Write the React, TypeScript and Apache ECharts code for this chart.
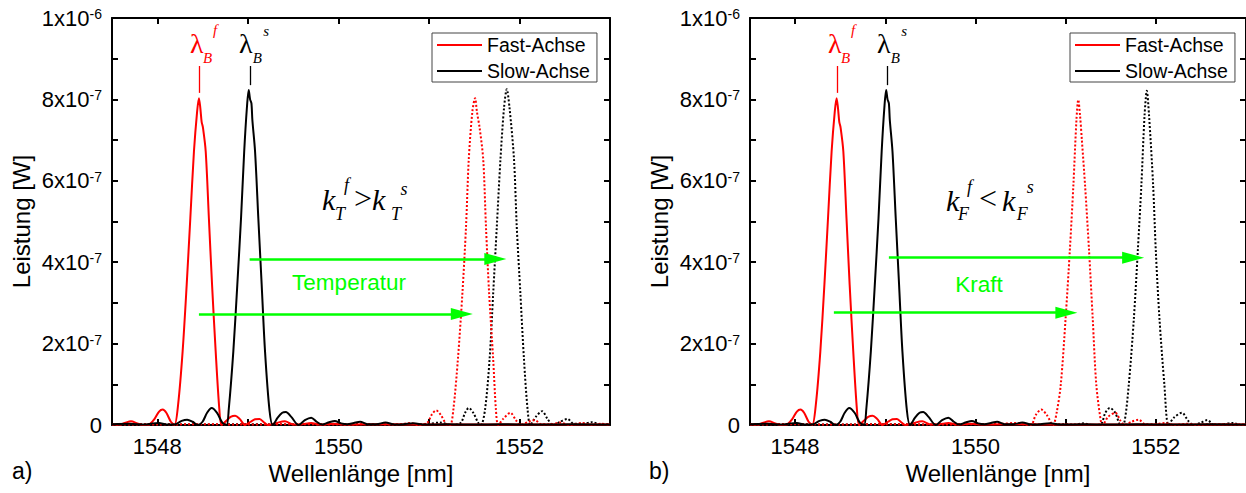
import React, { useEffect, useRef } from 'react';
import * as echarts from 'echarts';

type Pt = [number, number];

// Wavelength [nm] vs. power in units of 1e-7 W
const fastSolid: Pt[] = [
  [1547.5, 0.02], [1547.58, 0.01], [1547.64, 0.05], [1547.71, 0.09], [1547.78, 0.04], [1547.84, 0.0],
  [1547.92, 0.03], [1547.97, 0.15], [1548.02, 0.33], [1548.06, 0.38], [1548.1, 0.3], [1548.15, 0.08],
  [1548.19, 0.0], [1548.23, 0.5], [1548.28, 1.81], [1548.325, 3.45], [1548.365, 5.08], [1548.405, 6.72],
  [1548.44, 7.7], [1548.46, 8.03], [1548.475, 7.8], [1548.49, 7.45], [1548.505, 7.3], [1548.535, 6.72],
  [1548.57, 5.08], [1548.605, 3.45], [1548.645, 1.81], [1548.685, 0.4], [1548.71, 0.0], [1548.76, 0.1],
  [1548.81, 0.2], [1548.86, 0.23], [1548.91, 0.15], [1548.97, 0.0], [1549.03, 0.08], [1549.08, 0.14],
  [1549.13, 0.15], [1549.18, 0.06], [1549.22, 0.0], [1549.3, 0.04], [1549.41, 0.09], [1549.5, 0.01],
  [1549.6, 0.02], [1549.7, 0.05], [1549.8, 0.01], [1549.95, 0.03], [1550.1, 0.01], [1550.3, 0.02],
  [1550.6, 0.02], [1551.0, 0.01], [1551.5, 0.01], [1552.0, 0.01], [1552.5, 0.01], [1553.0, 0.01],
];
const slowSolid: Pt[] = [
  [1547.5, 0.02], [1547.7, 0.03], [1547.85, 0.01], [1547.95, 0.04], [1548.02, 0.05], [1548.1, 0.01],
  [1548.2, 0.02], [1548.27, 0.1], [1548.33, 0.13], [1548.39, 0.08], [1548.45, 0.0], [1548.5, 0.08],
  [1548.55, 0.3], [1548.6, 0.42], [1548.66, 0.3], [1548.72, 0.05], [1548.765, 0.0], [1548.79, 0.4],
  [1548.84, 1.81], [1548.884, 3.45], [1548.925, 5.08], [1548.96, 6.72], [1548.99, 7.8], [1549.01, 8.23],
  [1549.025, 8.0], [1549.04, 7.9], [1549.05, 7.5], [1549.08, 6.72], [1549.116, 5.08], [1549.153, 3.45],
  [1549.19, 1.81], [1549.24, 0.35], [1549.275, 0.0], [1549.33, 0.18], [1549.38, 0.3], [1549.42, 0.32],
  [1549.48, 0.2], [1549.56, 0.0], [1549.63, 0.12], [1549.7, 0.18], [1549.76, 0.08], [1549.82, 0.01],
  [1549.89, 0.06], [1549.96, 0.1], [1550.03, 0.04], [1550.1, 0.02], [1550.17, 0.05], [1550.24, 0.08],
  [1550.32, 0.02], [1550.42, 0.02], [1550.52, 0.06], [1550.62, 0.01], [1550.72, 0.02], [1550.83, 0.04],
  [1550.95, 0.01], [1551.2, 0.02], [1551.5, 0.01], [1551.8, 0.02], [1552.2, 0.01], [1552.6, 0.02],
  [1553.0, 0.01],
];
// panel a): shifted by temperature
const fastDottedA: Pt[] = [
  [1547.5, 0.01], [1548.0, 0.01], [1548.5, 0.02], [1549.0, 0.01], [1549.5, 0.02], [1550.0, 0.01],
  [1550.4, 0.02], [1550.6, 0.01], [1550.72, 0.03], [1550.79, 0.05], [1550.87, 0.0], [1550.98, 0.05],
  [1551.03, 0.25], [1551.08, 0.36], [1551.13, 0.25], [1551.19, 0.03], [1551.235, 0.0], [1551.27, 0.38],
  [1551.32, 1.61], [1551.37, 3.24], [1551.41, 4.88], [1551.44, 6.52], [1551.48, 7.7], [1551.51, 8.03],
  [1551.53, 7.7], [1551.56, 7.3], [1551.6, 6.52], [1551.63, 4.88], [1551.665, 3.24], [1551.71, 1.61],
  [1551.74, 0.38], [1551.765, 0.0], [1551.82, 0.15], [1551.9, 0.3], [1551.96, 0.12], [1552.01, 0.0],
  [1552.1, 0.08], [1552.17, 0.12], [1552.24, 0.02], [1552.35, 0.02], [1552.45, 0.06], [1552.55, 0.0],
  [1552.7, 0.05], [1552.8, 0.0], [1552.9, 0.03], [1553.0, 0.0],
];
const slowDottedA: Pt[] = [
  [1547.5, 0.01], [1548.0, 0.02], [1548.5, 0.01], [1549.0, 0.02], [1549.5, 0.01], [1550.0, 0.02],
  [1550.5, 0.01], [1550.9, 0.02], [1551.0, 0.03], [1551.12, 0.06], [1551.25, 0.0], [1551.35, 0.05],
  [1551.4, 0.3], [1551.44, 0.42], [1551.49, 0.3], [1551.545, 0.05], [1551.575, 0.0], [1551.62, 0.38],
  [1551.67, 1.61], [1551.71, 3.24], [1551.75, 4.88], [1551.79, 6.52], [1551.83, 7.8], [1551.86, 8.25],
  [1551.89, 7.8], [1551.94, 6.52], [1551.97, 4.88], [1552.01, 3.24], [1552.05, 1.61], [1552.09, 0.38],
  [1552.12, 0.0], [1552.18, 0.2], [1552.25, 0.34], [1552.31, 0.15], [1552.37, 0.0], [1552.45, 0.08],
  [1552.53, 0.15], [1552.6, 0.03], [1552.7, 0.03], [1552.8, 0.07], [1552.9, 0.01], [1553.0, 0.03],
];
// panel b): shifted by force
const fastDottedB: Pt[] = [
  [1547.5, 0.01], [1548.0, 0.02], [1548.5, 0.01], [1549.0, 0.02], [1549.5, 0.01], [1550.0, 0.02],
  [1550.3, 0.03], [1550.45, 0.05], [1550.55, 0.01], [1550.615, 0.0], [1550.67, 0.25], [1550.73, 0.38],
  [1550.79, 0.25], [1550.86, 0.0], [1550.9, 0.3], [1550.946, 0.99], [1551.0, 2.63], [1551.046, 4.27],
  [1551.086, 5.9], [1551.12, 7.5], [1551.14, 7.99], [1551.16, 7.6], [1551.18, 7.0], [1551.215, 5.9],
  [1551.26, 4.27], [1551.3, 2.63], [1551.34, 0.99], [1551.39, 0.1], [1551.41, 0.0], [1551.47, 0.2],
  [1551.55, 0.3], [1551.61, 0.1], [1551.65, 0.0], [1551.73, 0.08], [1551.81, 0.13], [1551.88, 0.02],
  [1552.0, 0.02], [1552.1, 0.05], [1552.2, 0.0], [1552.35, 0.03], [1552.45, 0.0], [1552.6, 0.02],
  [1553.0, 0.01],
];
const slowDottedB: Pt[] = [
  [1547.5, 0.01], [1548.0, 0.02], [1548.5, 0.01], [1549.0, 0.02], [1549.5, 0.01], [1550.0, 0.02],
  [1550.5, 0.01], [1551.0, 0.02], [1551.1, 0.01], [1551.2, 0.04], [1551.3, 0.0], [1551.39, 0.02],
  [1551.44, 0.3], [1551.49, 0.42], [1551.55, 0.3], [1551.61, 0.0], [1551.65, 0.05], [1551.7, 0.99],
  [1551.757, 2.63], [1551.8, 4.27], [1551.84, 5.9], [1551.875, 7.6], [1551.9, 8.21], [1551.925, 7.6],
  [1551.97, 5.9], [1552.0, 4.27], [1552.04, 2.63], [1552.095, 0.99], [1552.14, 0.0], [1552.2, 0.18],
  [1552.29, 0.3], [1552.36, 0.1], [1552.42, 0.0], [1552.5, 0.06], [1552.57, 0.12], [1552.65, 0.0],
  [1552.75, 0.02], [1552.85, 0.05], [1552.95, 0.0], [1553.0, 0.01],
];

const X_MIN = 1547.5;
const X_MAX = 1553;
const xTickValues = [1548, 1549, 1550, 1551, 1552, 1553];
const xLabelValues = [1548, 1550, 1552];
const yTickValues = [0, 2, 4, 6, 8, 10];
const yTickMantissa = ['0', '2x10', '4x10', '6x10', '8x10', '1x10'];
const yTickExponent = ['', '-7', '-7', '-7', '-7', '-6'];
const legendNames = ['Fast-Achse', 'Slow-Achse'];

// green shift arrows (start wavelength, arrow tip wavelength, height in 1e-7 W)
const arrowsA = [
  { from: 1549.02, to: 1551.855, y: 4.08 },
  { from: 1548.46, to: 1551.485, y: 2.73 },
];
const arrowsB = [
  { from: 1549.04, to: 1551.87, y: 4.11 },
  { from: 1548.43, to: 1551.13, y: 2.76 },
];
// short vertical marker lines above the Bragg peaks
const peakMarkers = [
  { x: 1548.465, y0: 8.16, y1: 8.82, color: '#ff0000' },
  { x: 1549.024, y0: 8.35, y1: 8.82, color: '#000000' },
];

const SANS = 'Liberation Sans';
const SERIF = 'Liberation Serif';
const RED = '#ff0000';
const BLACK = '#000000';
const GREEN = '#00ff00';

const GRIDS = [
  { left: 112, top: 18, width: 498, height: 407 },
  { left: 750, top: 18, width: 498, height: 407 },
];
const PANEL_SHIFT = 638;

function txt(text: string, x: number, y: number, size: number, color: string, family: string, italic = false, align = 'left') {
  return {
    type: 'text',
    x,
    y,
    silent: true,
    z: 100,
    style: {
      text,
      fill: color,
      font: `${italic ? 'italic ' : ''}${size}px "${family}"`,
      align,
      verticalAlign: 'middle',
    },
  };
}

export default function App() {
  const ref = useRef<HTMLDivElement>(null);

  useEffect(() => {
    const chart = echarts.init(ref.current!, null, { renderer: 'svg' });
    const pxPerNm = GRIDS[0].width / (X_MAX - X_MIN);
    const headLen = 22;
    const headWid = 12;

    const xAxes: any[] = [];
    const yAxes: any[] = [];
    GRIDS.forEach((_, i) => {
      const axisLine = { show: true, onZero: false, lineStyle: { color: BLACK, width: 2 } };
      const xCommon = {
        type: 'value', gridIndex: i, min: X_MIN, max: X_MAX,
        axisLine,
        axisTick: { show: true, inside: true, length: 6, customValues: xTickValues, lineStyle: { color: BLACK, width: 2 } },
        splitLine: { show: false },
      };
      xAxes.push({
        ...xCommon, position: 'bottom',
        name: 'Wellenlänge [nm]', nameLocation: 'middle', nameGap: 35,
        nameTextStyle: { fontSize: 24, color: BLACK, fontFamily: SANS },
        axisLabel: {
          show: true, customValues: xLabelValues, fontSize: 22, color: BLACK, margin: 10, fontFamily: SANS,
          formatter: (v: number) => String(Math.round(v)),
        },
      });
      xAxes.push({ ...xCommon, position: 'top', axisLabel: { show: false } });
      const yCommon = {
        type: 'value', gridIndex: i, min: 0, max: 10, interval: 1,
        axisLine,
        axisTick: { show: true, inside: true, length: 6, lineStyle: { color: BLACK, width: 2 } },
        splitLine: { show: false },
      };
      yAxes.push({
        ...yCommon, position: 'left',
        name: 'Leistung [W]', nameLocation: 'middle', nameGap: 79, nameRotate: 90,
        nameTextStyle: { fontSize: 24, color: BLACK, fontFamily: SANS },
        axisLabel: {
          show: true, margin: 10, color: BLACK, fontFamily: SANS, fontSize: 22,
          formatter: (v: number) => {
            const idx = yTickValues.indexOf(Math.round(v));
            if (idx < 0) return '';
            if (!yTickExponent[idx]) return `{z|${yTickMantissa[idx]}}`;
            return `{m|${yTickMantissa[idx]}}{e|${yTickExponent[idx]}}`;
          },
          rich: {
            z: { fontSize: 22, lineHeight: 22, fontFamily: SANS, color: BLACK },
            m: { fontSize: 22, lineHeight: 22, fontFamily: SANS, color: BLACK, verticalAlign: 'bottom' },
            e: { fontSize: 14, lineHeight: 14, fontFamily: SANS, color: BLACK, verticalAlign: 'top', padding: [0, 0, 13, 0] },
          },
        },
      });
      yAxes.push({ ...yCommon, position: 'right', axisLabel: { show: false } });
    });

    const mkSeries = (name: string, data: Pt[], color: string, dotted: boolean, gi: number, extra: any = {}) => ({
      type: 'line', name, data, xAxisIndex: gi * 2, yAxisIndex: gi * 2,
      symbol: 'none', showSymbol: false, smooth: 0.3, clip: true, silent: true,
      lineStyle: { color, width: 2, type: dotted ? [2, 2] : 'solid' },
      itemStyle: { color },
      z: dotted ? 2 : 3,
      ...extra,
    });

    const arrowMarkLine = (arrows: typeof arrowsA) => ({
      silent: true, animation: false, symbol: ['none', 'triangle'],
      label: { show: false }, emphasis: { disabled: true },
      lineStyle: { color: GREEN, width: 2.5, type: 'solid' },
      data: arrows.map((a) => [
        { coord: [a.from, a.y], symbol: 'none' },
        { coord: [a.to - headLen / 2 / pxPerNm, a.y], symbol: 'triangle', symbolSize: [headWid, headLen] },
      ]),
    });
    const markerMarkLine = () => ({
      silent: true, animation: false, symbol: ['none', 'none'],
      label: { show: false }, emphasis: { disabled: true },
      data: peakMarkers.map((m) => [
        { coord: [m.x, m.y0], lineStyle: { color: m.color, width: 1.3, type: 'solid' } },
        { coord: [m.x, m.y1], lineStyle: { color: m.color, width: 1.3, type: 'solid' } },
      ]),
    });

    const series: any[] = [];
    const dotted = [[fastDottedA, slowDottedA, arrowsA], [fastDottedB, slowDottedB, arrowsB]] as const;
    GRIDS.forEach((_, gi) => {
      series.push(mkSeries(legendNames[0], fastSolid, RED, false, gi, { markLine: markerMarkLine() }));
      series.push(mkSeries(legendNames[1], slowSolid, BLACK, false, gi));
      series.push(mkSeries(legendNames[1], dotted[gi][1] as Pt[], BLACK, true, gi));
      series.push(mkSeries(legendNames[0], dotted[gi][0] as Pt[], RED, true, gi, { markLine: arrowMarkLine(dotted[gi][2] as any) }));
    });

    const legends = GRIDS.map((_, gi) => ({
      data: legendNames, orient: 'vertical', left: 432 + gi * PANEL_SHIFT, top: 33,
      icon: 'rect', itemWidth: 45, itemHeight: 2, itemGap: 6,
      padding: [2, 7, 1, 5], borderColor: '#444', borderWidth: 1,
      selectedMode: false,
      textStyle: { fontSize: 19.5, lineHeight: 19, color: BLACK, fontFamily: SANS },
    }));

    const graphics: any[] = [];
    [0, 1].forEach((gi) => {
      const d = gi * PANEL_SHIFT;
      // lambda_B^f and lambda_B^s
      graphics.push(txt('λ', 190 + d, 43.5, 28, RED, SERIF));
      graphics.push(txt('B', 203 + d, 57.9, 15, RED, SERIF, true));
      graphics.push(txt('f', 213 + d, 29.8, 15, RED, SERIF, true));
      graphics.push(txt('λ', 239 + d, 43.5, 28, BLACK, SERIF));
      graphics.push(txt('B', 252.7 + d, 57.9, 15, BLACK, SERIF, true));
      graphics.push(txt('s', 263.3 + d, 30.9, 15, BLACK, SERIF, true));
    });
    // k_T^f > k_T^s
    graphics.push(txt('k', 322, 199, 30, BLACK, SERIF, true));
    graphics.push(txt('T', 335, 213.9, 18, BLACK, SERIF, true));
    graphics.push(txt('f', 344, 185.1, 18, BLACK, SERIF, true));
    graphics.push(txt('>', 354, 198, 32, BLACK, SERIF));
    graphics.push(txt('k', 372, 199, 30, BLACK, SERIF, true));
    graphics.push(txt('T', 391, 213.9, 18, BLACK, SERIF, true));
    graphics.push(txt('s', 400.5, 188.9, 18, BLACK, SERIF, true));
    // k_F^f < k_F^s
    graphics.push(txt('k', 946, 200, 30, BLACK, SERIF, true));
    graphics.push(txt('F', 958, 213.9, 18, BLACK, SERIF, true));
    graphics.push(txt('f', 967, 187.1, 18, BLACK, SERIF, true));
    graphics.push(txt('<', 979, 198, 32, BLACK, SERIF));
    graphics.push(txt('k', 1002, 200, 30, BLACK, SERIF, true));
    graphics.push(txt('F', 1016.7, 213.9, 18, BLACK, SERIF, true));
    graphics.push(txt('s', 1026.7, 186.9, 18, BLACK, SERIF, true));
    // green labels
    graphics.push(txt('Temperatur', 349, 282.3, 22.5, GREEN, SANS, false, 'center'));
    graphics.push(txt('Kraft', 979, 284, 22.5, GREEN, SANS, false, 'center'));
    // panel labels
    graphics.push(txt('a)', 12, 471, 23, BLACK, SANS));
    graphics.push(txt('b)', 649, 471, 23, BLACK, SANS));

    chart.setOption({
      animation: false,
      backgroundColor: '#ffffff',
      textStyle: { fontFamily: SANS },
      grid: GRIDS.map((g) => ({ ...g, containLabel: false })),
      xAxis: xAxes,
      yAxis: yAxes,
      legend: legends,
      tooltip: { show: false },
      series,
      graphic: graphics,
    });
    return () => chart.dispose();
  }, []);

  return <div ref={ref} style={{ position: 'absolute', left: 0, top: 0, width: 1246, height: 493 }} />;
}
